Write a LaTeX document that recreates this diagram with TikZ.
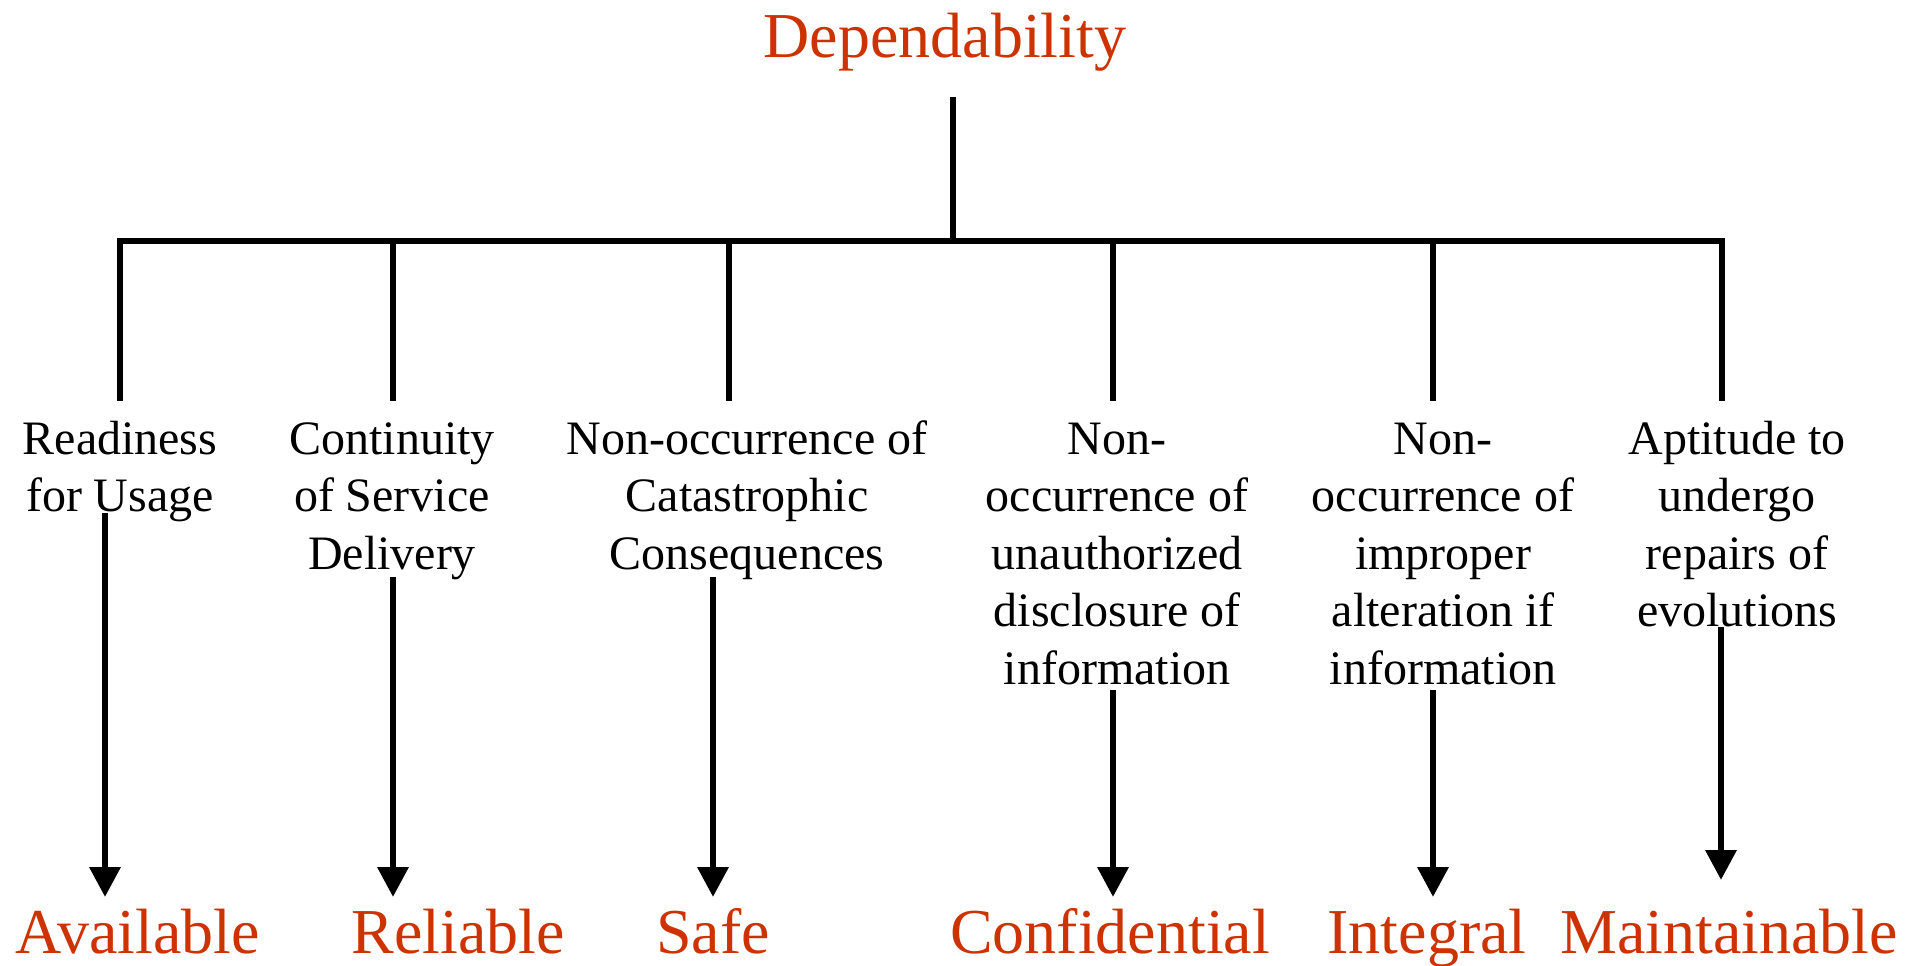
\documentclass[tikz,border=0pt]{standalone}
\usepackage{fontspec}
\setmainfont{Liberation Serif}
\usetikzlibrary{arrows.meta}
\definecolor{dred}{RGB}{204,51,0}
\newcommand{\mlines}[1]{\begin{tabular}[t]{@{}c@{}}#1\end{tabular}}
\begin{document}
\begin{tikzpicture}[x=0.5pt,y=-0.5pt,
  ln/.style={line width=3.3pt,line join=miter},
  arr/.style={line width=3.3pt,-{Triangle[width=15pt,length=15pt]}},
  desc/.style={inner sep=0pt,anchor=base,font=\fontsize{24}{28.75}\selectfont},
  qual/.style={inner sep=0pt,anchor=base,text=dred,font=\fontsize{32}{38}\selectfont}]
\useasboundingbox (0,0) rectangle (1919,965);

% title
\node[qual] (dep) at (945,57) {Dependability};
\coordinate (top) at (953,97);
\coordinate (hub) at (953,241);

% branch points
\coordinate (b1) at (120,241);  \coordinate (t1) at (120,401);
\coordinate (b2) at (393,241);  \coordinate (t2) at (393,401);
\coordinate (b3) at (729,241);  \coordinate (t3) at (729,401);
\coordinate (b4) at (1113,241); \coordinate (t4) at (1113,401);
\coordinate (b5) at (1433,241); \coordinate (t5) at (1433,401);
\coordinate (b6) at (1722,241); \coordinate (t6) at (1722,401);

\draw[ln] (top) -- (hub);
\draw[ln] (t1) -- (b1) -- (b6) -- (t6);
\draw[ln] (b2) -- (t2);
\draw[ln] (b3) -- (t3);
\draw[ln] (b4) -- (t4);
\draw[ln] (b5) -- (t5);

% descriptions
\node[desc] (d1) at (120,454)  {\mlines{Readiness\\for Usage}};
\node[desc] (d2) at (392,454)  {\mlines{Continuity\\of Service\\Delivery}};
\node[desc] (d3) at (747,454)  {\mlines{Non-occurrence of\\Catastrophic\\Consequences}};
\node[desc] (d4) at (1117,454) {\mlines{Non-\\occurrence of\\unauthorized\\disclosure of\\information}};
\node[desc] (d5) at (1443,454) {\mlines{Non-\\occurrence of\\improper\\alteration if\\information}};
\node[desc] (d6) at (1737,454) {\mlines{Aptitude to\\undergo\\repairs of\\evolutions}};

% arrows
\coordinate (s1) at (105,513);  \coordinate (e1) at (105,897);
\coordinate (s2) at (393,577);  \coordinate (e2) at (393,897);
\coordinate (s3) at (713,577);  \coordinate (e3) at (713,897);
\coordinate (s4) at (1113,690); \coordinate (e4) at (1113,897);
\coordinate (s5) at (1433,690); \coordinate (e5) at (1433,897);
\coordinate (s6) at (1721,627); \coordinate (e6) at (1721,880);
\draw[arr] (s1) -- (e1);
\draw[arr] (s2) -- (e2);
\draw[arr] (s3) -- (e3);
\draw[arr] (s4) -- (e4);
\draw[arr] (s5) -- (e5);
\draw[arr] (s6) -- (e6);

% qualities
\node[qual] (q1) at (138,953)  {Available};
\node[qual] (q2) at (458,953)  {Reliable};
\node[qual] (q3) at (713,953)  {Safe};
\node[qual] (q4) at (1110,953) {Confidential};
\node[qual] (q5) at (1427,953) {Integral};
\node[qual] (q6) at (1729,953) {Maintainable};
\end{tikzpicture}
\end{document}
